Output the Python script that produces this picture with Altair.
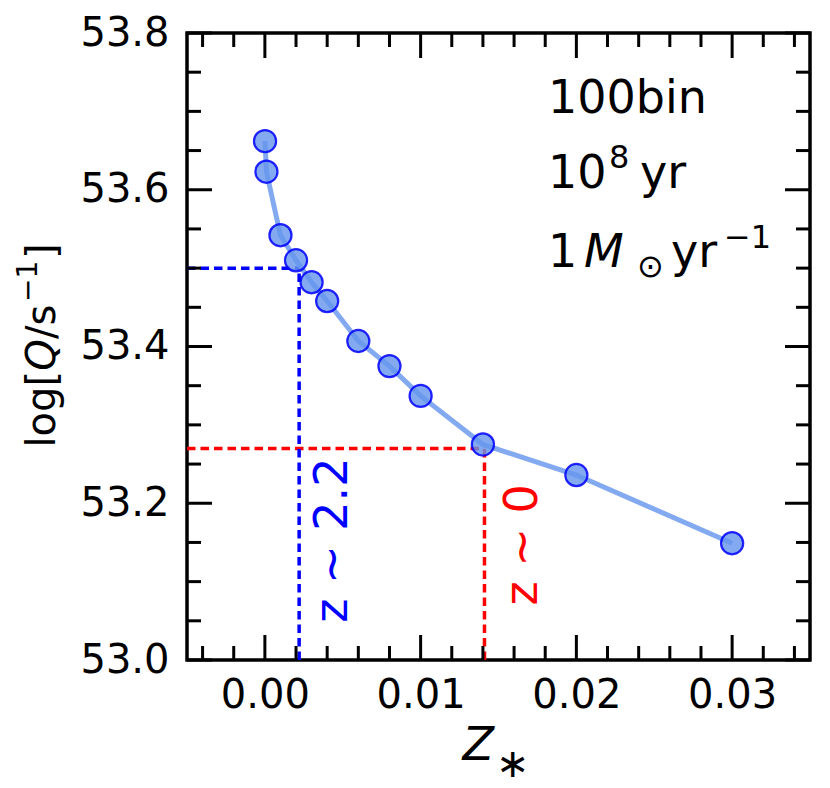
import altair as alt
import pandas as pd

# ---- data ----
Z = [0.00001, 0.0001, 0.001, 0.002, 0.003, 0.004, 0.006, 0.008, 0.010, 0.014, 0.020, 0.030]
LOGQ = [53.662, 53.623, 53.542, 53.510, 53.482, 53.458, 53.407, 53.375, 53.337, 53.275, 53.236, 53.149]

X_TICKS = [0.0, 0.01, 0.02, 0.03]
X_MINOR = [-0.004, -0.002, 0.002, 0.004, 0.006, 0.008, 0.012, 0.014, 0.016, 0.018,
           0.022, 0.024, 0.026, 0.028, 0.032, 0.034]
Y_TICKS = [53.0, 53.2, 53.4, 53.6, 53.8]
Y_MINOR = [53.05, 53.1, 53.15, 53.25, 53.3, 53.35, 53.45, 53.5, 53.55, 53.65, 53.7, 53.75]

GUIDE_X0 = [-0.005, -0.005]
GUIDE_X = [0.0022, 0.0141]
GUIDE_Y0 = [53.0, 53.0]
GUIDE_Y = [53.5, 53.27]
GUIDE_COLOR = ["#0000ff", "#ff0000"]
GUIDE_LABEL = ["z ∼ 2.2", "z ∼ 0"]
LABEL_X = [0.00435, 0.0166]
LABEL_Y = [53.153, 53.147]

W, H = 623, 627
FONT = "DejaVu Sans"

xs = alt.Scale(domain=[-0.005, 0.035], nice=False, zero=False)
ys = alt.Scale(domain=[53.0, 53.8], nice=False, zero=False)

df = pd.DataFrame({"Z": Z, "logQ": LOGQ, "order": list(range(len(Z)))})
guides = pd.DataFrame({"x0": GUIDE_X0, "x": GUIDE_X, "y0": GUIDE_Y0, "y": GUIDE_Y,
                       "c": GUIDE_COLOR, "label": GUIDE_LABEL, "lx": LABEL_X, "ly": LABEL_Y})

xaxis = alt.Axis(values=X_TICKS, format=".2f", ticks=False, domain=False, grid=False,
                 labelFont=FONT, labelFontSize=40, labelColor="black", labelPadding=15,
                 title=None)
yaxis = alt.Axis(values=Y_TICKS, format=".1f", ticks=False, domain=False, grid=False,
                 labelFont=FONT, labelFontSize=40, labelColor="black", labelPadding=18,
                 title=None)

base = alt.Chart(df)

line = base.mark_line(color="#6495ED", opacity=0.8, strokeWidth=5).encode(
    x=alt.X("Z:Q", scale=xs, axis=xaxis),
    y=alt.Y("logQ:Q", scale=ys, axis=yaxis),
    order="order:Q",
)
points = base.mark_point(filled=True, fill="#6495ED", fillOpacity=0.8, stroke="#0000ff",
                         strokeWidth=2.2, strokeOpacity=0.85, size=490, shape="circle").encode(
    x=alt.X("Z:Q", scale=xs), y=alt.Y("logQ:Q", scale=ys))

gbase = alt.Chart(guides)
hlines = gbase.mark_rule(strokeDash=[8.5, 5], strokeWidth=3.5).encode(
    x=alt.X("x0:Q", scale=xs), x2="x:Q", y=alt.Y("y:Q", scale=ys),
    color=alt.Color("c:N", scale=None))
vlines = gbase.mark_rule(strokeDash=[8.5, 5], strokeWidth=3.5).encode(
    x=alt.X("x:Q", scale=xs), y=alt.Y("y0:Q", scale=ys), y2="y:Q",
    color=alt.Color("c:N", scale=None))
glabels = gbase.mark_text(angle=270, align="center", baseline="middle", font=FONT,
                          fontSize=46).encode(
    x=alt.X("lx:Q", scale=xs), y=alt.Y("ly:Q", scale=ys), text="label:N",
    color=alt.Color("c:N", scale=None))

# ---- ticks (inward, all four sides) ----
def xticks(vals, length):
    d = alt.Chart(pd.DataFrame({"v": vals}))
    bot = d.mark_rule(color="black", strokeWidth=3).encode(
        x=alt.X("v:Q", scale=xs), y=alt.value(H), y2=alt.value(H - length))
    top = d.mark_rule(color="black", strokeWidth=3).encode(
        x=alt.X("v:Q", scale=xs), y=alt.value(0), y2=alt.value(length))
    return [bot, top]

def yticks(vals, length):
    d = alt.Chart(pd.DataFrame({"v": vals}))
    left = d.mark_rule(color="black", strokeWidth=3).encode(
        y=alt.Y("v:Q", scale=ys), x=alt.value(0), x2=alt.value(length))
    right = d.mark_rule(color="black", strokeWidth=3).encode(
        y=alt.Y("v:Q", scale=ys), x=alt.value(W), x2=alt.value(W - length))
    return [left, right]

ticks = xticks(X_TICKS, 25) + xticks(X_MINOR, 14) + yticks(Y_TICKS, 25) + yticks(Y_MINOR, 14)

# ---- annotations (top right) ----
ann = alt.Chart(pd.DataFrame({"x": [0.01818], "y1": [53.698], "y2": [53.602], "y3": [53.5016]}))

def atext(txt, ycol, size=46, dx=0, dy=0, style="normal"):
    return ann.mark_text(align="left", baseline="alphabetic", font=FONT, fontSize=size,
                         fontStyle=style, color="black", text=txt, dx=dx, dy=dy).encode(
        x=alt.X("x:Q", scale=xs), y=alt.Y(f"{ycol}:Q", scale=ys))

annots = [
    atext("100bin", "y1"),
    atext("10", "y2"),
    atext("8", "y2", size=32, dx=61, dy=-20),
    atext("yr", "y2", dx=92),
    atext("1", "y3"),
    atext("M", "y3", dx=36, style="italic"),
    atext("⊙", "y3", size=32, dx=89, dy=10),
    atext("yr", "y3", dx=123),
    atext("−1", "y3", size=32, dx=176, dy=-19),
]

# ---- axis titles built from text parts ----
tt = alt.Chart(pd.DataFrame({"a": [0]}))

def ttext(txt, x, y, size, align="left", angle=0, dx=0, dy=0, style="normal"):
    return tt.mark_text(align=align, baseline="alphabetic", angle=angle, font=FONT,
                        fontSize=size, fontStyle=style, color="black", text=txt,
                        dx=dx, dy=dy).encode(x=alt.value(x), y=alt.value(y))

YT_X, YT_Y = -132, 322
titles = [
    ttext("Z", 307, H + 100, 46, align="right", style="italic"),
    ttext("∗", 309, H + 117, 40),
    ttext("log[", YT_X, YT_Y, 40, align="right", angle=270, dx=-16),
    ttext("Q", YT_X, YT_Y, 40, align="center", angle=270, style="italic"),
    ttext("/s", YT_X, YT_Y, 40, align="left", angle=270, dx=16),
    ttext("−1", YT_X, YT_Y, 28, align="left", angle=270, dx=53, dy=-18),
    ttext("]", YT_X, YT_Y, 40, align="left", angle=270, dx=96),
]

chart = alt.layer(
    hlines, vlines, line, points, glabels, *ticks, *annots, *titles,
).properties(
    width=W, height=H,
    autosize=alt.AutoSizeParams(type="none"),
    padding={"left": 179, "top": 25, "right": 10, "bottom": 127},
).configure_view(
    stroke="black", strokeWidth=3.5, clip=False
)

chart.save("out.html", embed_options={"renderer": "svg", "actions": False})
